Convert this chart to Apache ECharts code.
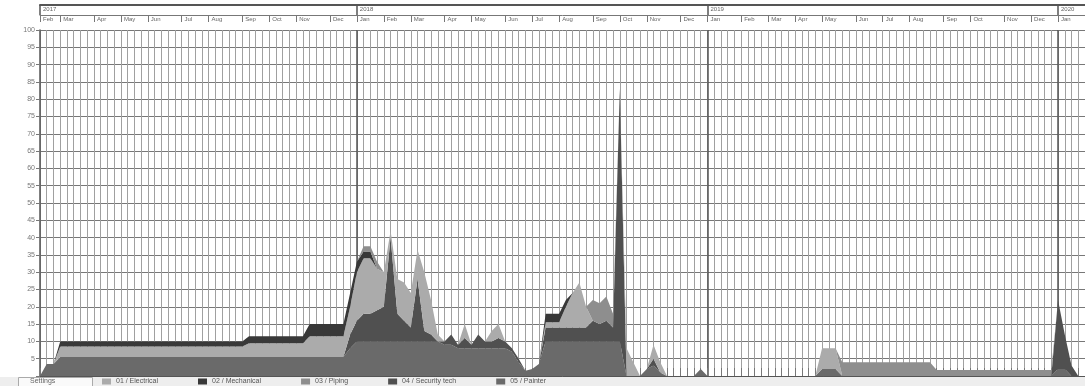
<!DOCTYPE html>
<html>
<head>
<meta charset="utf-8">
<script src="https://cdn.jsdelivr.net/npm/echarts@6/dist/echarts.min.js"></script>
<style>html,body{margin:0;padding:0;background:#fff;}#c{width:1085px;height:386px;}</style>
</head>
<body>
<div id="c"></div>
<script>
// ---- data ----
const weekStart = '2017-02-06';
const weekCount = 156;
const monthNames = ['Jan','Feb','Mar','Apr','May','Jun','Jul','Aug','Sep','Oct','Nov','Dec'];
const yearLabels = ['2017','2018','2019','2020'];
const yTicks = [5,10,15,20,25,30,35,40,45,50,55,60,65,70,75,80,85,90,95,100];
const legendNames = ['01 / Electrical','02 / Mechanical','03 / Piping','04 / Security tech','05 / Painter'];
const settingsLabel = 'Settings';

// weekly load values, index 0 = week of 2017-02-06
const painter = [
0,3.5,3.5,5.5,5.5,5.5,5.5,5.5,5.5,5.5, 5.5,5.5,5.5,5.5,5.5,5.5,5.5,5.5,5.5,5.5,
5.5,5.5,5.5,5.5,5.5,5.5,5.5,5.5,5.5,5.5, 5.5,5.5,5.5,5.5,5.5,5.5,5.5,5.5,5.5,5.5,
5.5,5.5,5.5,5.5,5.5,5.5,8,10,10,10, 10,10,10,10,10,10,10,10,10,10,
9,9,8,8,8,8,8,8,8,8, 7,4,1.5,2,3.5,10,10,10,10,10,
10,10,10,10,10,10,10,0,0,0, 2,3,1,0,0,0,0,0,2,0,
0,0,0,0,0,0,0,0,0,0, 0,0,0,0,0,0,2,2,2,0,
0,0,0,0,0,0,0,0,0,0, 0,0,0,0,0,0,0,0,0,0,
0,0,0,0,0,0,0,0,0,0, 0,2,2,0,0,0
];
const security = [
0,0,0,0,0,0,0,0,0,0, 0,0,0,0,0,0,0,0,0,0,
0,0,0,0,0,0,0,0,0,0, 0,0,0,0,0,0,0,0,0,0,
0,0,0,0,0,0,4,6,8,8, 9,10,30,8,6,4,18,3,2,0,
1,3,1,3,1,4,2,2,3,2, 1,1,0,0,0,4,4,4,4,4,
4,4,6,5,6,4,73,0,0,0, 0,2,0,0,0,0,0,0,0,0,
0,0,0,0,0,0,0,0,0,0, 0,0,0,0,0,0,0,0,0,0,
0,0,0,0,0,0,0,0,0,0, 0,0,0,0,0,0,0,0,0,0,
0,0,0,0,0,0,0,0,0,0, 0,20,10,3,0,0
];
const electrical = [
0,0,0,3,3,3,3,3,3,3, 3,3,3,3,3,3,3,3,3,3,
3,3,3,3,3,3,3,3,3,3, 3,4,4,4,4,4,4,4,4,4,
6,6,6,6,6,6,8,14,16,16, 12,10,2,10,11,10,8.5,17,10,2,
0,0,0,4,0,0,0,3,4,0, 0,0,0,0,0,1.5,1.5,1.5,6,10,
13,6,0,0,0,0,0,8,4,0, 0,4,3,0,0,0,0,0,0,0,
0,0,0,0,0,0,0,0,0,0, 0,0,0,0,0,0,6,6,6,0,
0,0,0,0,0,0,0,0,0,0, 0,0,0,0,0,0,0,0,0,0,
0,0,0,0,0,0,0,0,0,0, 0,0,0,0,0,0
];
const mechanical = [
0,0,0,1.5,1.5,1.5,1.5,1.5,1.5,1.5, 1.5,1.5,1.5,1.5,1.5,1.5,1.5,1.5,1.5,1.5,
1.5,1.5,1.5,1.5,1.5,1.5,1.5,1.5,1.5,1.5, 1.5,2,2,2,2,2,2,2,2,2,
3.5,3.5,3.5,3.5,3.5,3.5,4,3,2,2, 0,0,0,0,0,0,0,0,0,0,
0,0,0,0,0,0,0,0,0,0, 0,0,0,0,0,2.5,2.5,2.5,2,0,
0,0,0,0,0,0,0,0,0,0, 0,0,0,0,0,0,0,0,0,0,
0,0,0,0,0,0,0,0,0,0, 0,0,0,0,0,0,0,0,0,0,
0,0,0,0,0,0,0,0,0,0, 0,0,0,0,0,0,0,0,0,0,
0,0,0,0,0,0,0,0,0,0, 0,0,0,0,0,0
];
const piping = [
0,0,0,0,0,0,0,0,0,0, 0,0,0,0,0,0,0,0,0,0,
0,0,0,0,0,0,0,0,0,0, 0,0,0,0,0,0,0,0,0,0,
0,0,0,0,0,0,0,0,1.5,1.5, 2,0,0,0,0,0,0,0,0,0,
0,0,0,0,0,0,0,0,0,0, 0,0,0,0,0,0,0,0,0,0,
0,0,6,6,7,4,0,0,0,0, 0,0,0,0,0,0,0,0,0,0,
0,0,0,0,0,0,0,0,0,0, 0,0,0,0,0,0,0,0,0,4,
4,4,4,4,4,4,4,4,4,4, 4,4,4,1.7,1.7,1.7,1.7,1.7,1.7,1.7,
1.7,1.7,1.7,1.7,1.7,1.7,1.7,1.7,1.7,1.7, 1.7,0,0,0,0,0
];

// ---- build categories ----
const DAY = 86400000;
const t0 = Date.parse(weekStart + 'T00:00:00Z');
const weeks = [];
for (let i = 0; i < weekCount; i++) {
  weeks.push(new Date(t0 + i * 7 * DAY).toISOString().slice(0, 10));
}
const monthAt = {};
const yearAt = {};
for (let y = 2017; y <= 2020; y++) {
  for (let m = 0; m < 12; m++) {
    const idx = Math.round((Date.UTC(y, m, 1) - t0) / (7 * DAY));
    if (idx >= 0 && idx < weekCount) {
      monthAt[idx] = monthNames[m];
      if (m === 0) yearAt[idx] = String(y);
    }
  }
}
if (monthAt[0] === undefined) monthAt[0] = monthNames[new Date(t0).getUTCMonth()];
if (yearAt[0] === undefined) yearAt[0] = yearLabels[0];

const font = 'Liberation Sans, Arial, sans-serif';
const chart = echarts.init(document.getElementById('c'), null, {renderer: 'canvas'});

function mk(name, data, color) {
  return {
    name: name, type: 'line', stack: 'load', data: data,
    showSymbol: false, symbol: 'none', smooth: false,
    lineStyle: {width: 0, color: color},
    itemStyle: {color: color},
    areaStyle: {color: color, opacity: 1},
    emphasis: {disabled: true},
    silent: true, z: 3
  };
}

chart.setOption({
  animation: false,
  backgroundColor: '#ffffff',
  textStyle: {fontFamily: font},
  grid: {left: 40, right: 0, top: 30, bottom: 10, containLabel: false},
  legend: {
    data: legendNames,
    left: 102, top: 377, padding: 0, z: 20,
    icon: 'rect',
    itemWidth: 9, itemHeight: 6, itemGap: 40,
    textStyle: {fontSize: 7, lineHeight: 9, color: '#555', fontFamily: font},
    selectedMode: false
  },
  xAxis: [
    {
      type: 'category', data: weeks, position: 'top', boundaryGap: false,
      axisLine: {show: true, lineStyle: {color: '#555', width: 1}},
      axisTick: {show: true, interval: 0, length: 8, lineStyle: {color: '#777'}},
      axisLabel: {show: false},
      splitLine: {show: true, interval: 0, lineStyle: {color: '#a0a0a0', width: 1}},
      splitArea: {show: false}
    },
    {
      type: 'category', data: weeks, position: 'top', offset: 15, boundaryGap: false,
      axisLine: {show: true, lineStyle: {color: '#777', width: 1}},
      axisTick: {show: true, inside: true, length: 7, interval: (i) => monthAt[i] !== undefined, lineStyle: {color: '#777'}},
      axisLabel: {show: true, inside: true, margin: 1, interval: (i) => monthAt[i] !== undefined,
        formatter: (v, i) => monthAt[i] || '', fontSize: 6, color: '#666', align: 'left', padding: [0, 0, 0, 3]},
      splitLine: {show: false}
    },
    {
      type: 'category', data: weeks, position: 'top', offset: 25, boundaryGap: false,
      axisLine: {show: true, lineStyle: {color: '#555', width: 2}},
      axisTick: {show: true, inside: true, length: 10, interval: (i) => yearAt[i] !== undefined, lineStyle: {color: '#555', width: 1.5}},
      axisLabel: {show: true, inside: true, margin: 1, interval: (i) => yearAt[i] !== undefined,
        formatter: (v, i) => yearAt[i] || '', fontSize: 6, color: '#666', align: 'left', padding: [0, 0, 0, 3]},
      splitLine: {show: true, interval: (i) => yearAt[i] !== undefined && i > 0, lineStyle: {color: '#555', width: 1.5}}
    }
  ],
  yAxis: {
    type: 'value', min: 0, max: 100, interval: 5,
    axisLine: {show: true, lineStyle: {color: '#555', width: 1.5}},
    axisTick: {show: true, length: 4, lineStyle: {color: '#777'}},
    axisLabel: {fontSize: 7, color: '#777', margin: 5,
      formatter: (v) => yTicks.indexOf(v) >= 0 ? String(v) : ''},
    splitLine: {show: true, lineStyle: {color: '#777', width: 1}}
  },
  graphic: [
    {type: 'rect', left: 0, top: 377, shape: {width: 1085, height: 9}, style: {fill: '#eeeeee'}, z: -1, silent: true},
    {type: 'rect', left: 18, top: 377, shape: {width: 74, height: 9}, style: {fill: '#fafafa', stroke: '#aaa', lineWidth: 1}, z: 1, silent: true},
    {type: 'text', left: 30, top: 378, style: {text: settingsLabel, fontSize: 7, fill: '#666', fontFamily: font}, z: 2, silent: true}
  ],
  series: [
    mk('05 / Painter', painter, '#6a6a6a'),
    mk('04 / Security tech', security, '#505050'),
    mk('01 / Electrical', electrical, '#ababab'),
    mk('02 / Mechanical', mechanical, '#383838'),
    mk('03 / Piping', piping, '#8e8e8e')
  ]
});
</script>
</body>
</html>
